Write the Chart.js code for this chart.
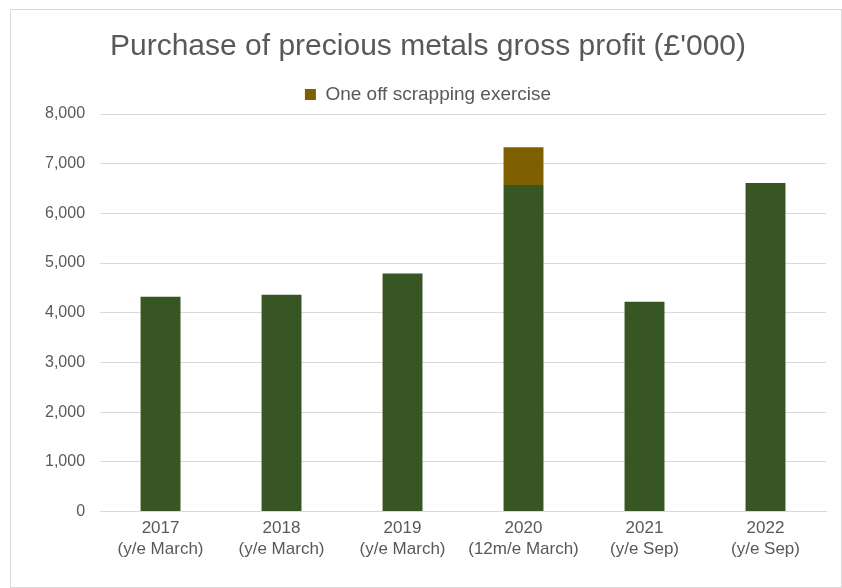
<!DOCTYPE html>
<html lang="en">
<head>
  <meta charset="UTF-8">
  <title>Purchase of precious metals gross profit</title>
  <script src="https://cdn.jsdelivr.net/npm/chart.js"></script>
  <style>
    body { margin: 0; background: #fff; overflow: hidden; }
    #wrap {
      position: absolute; left: 10px; top: 9px;
      width: 832px; height: 579px;
      border: 1px solid #d9d9d9; box-sizing: border-box;
    }
  </style>
</head>
<body>
  <div id="wrap"><canvas id="myChart"></canvas></div>
  <script>
    // Data
    var categories = [
      ['2017', '(y/e March)'],
      ['2018', '(y/e March)'],
      ['2019', '(y/e March)'],
      ['2020', '(12m/e March)'],
      ['2021', '(y/e Sep)'],
      ['2022', '(y/e Sep)']
    ];
    var grossProfit = [4320, 4360, 4790, 6570, 4220, 6610];
    var oneOff = [0, 0, 0, 760, 0, 0];

    var font = 'Liberation Sans, Arial, sans-serif';

    var ctx = document.getElementById('myChart').getContext('2d');
    var myChart = new Chart(ctx, {
      type: 'bar',
      data: {
        labels: categories,
        datasets: [{
          label: 'Gross profit',
          data: grossProfit,
          backgroundColor: '#375623',
          barPercentage: 0.33,
          categoryPercentage: 1
        }, {
          label: 'One off scrapping exercise',
          data: oneOff,
          backgroundColor: '#7f6000',
          barPercentage: 0.33,
          categoryPercentage: 1
        }]
      },
      options: {
        responsive: true,
        maintainAspectRatio: false,
        animation: false,
        layout: { padding: { left: 19, right: 15, top: 15, bottom: 29 } },
        scales: {
          x: {
            stacked: true,
            grid: { display: false },
            border: { color: '#d9d9d9' },
            ticks: { color: '#595959', padding: -2, font: { family: font, size: 17, lineHeight: 1.25 } }
          },
          y: {
            stacked: true,
            min: 0,
            max: 8000,
            ticks: {
              stepSize: 1000,
              color: '#595959',
              padding: 15,
              font: { family: font, size: 16 },
              callback: function (v) { return v.toLocaleString('en-GB'); }
            },
            grid: { color: '#d9d9d9', drawTicks: false },
            border: { display: false }
          }
        },
        plugins: {
          title: {
            display: true,
            text: "Purchase of precious metals gross profit (£'000)",
            color: '#595959',
            font: { family: font, size: 30, weight: 'normal' },
            padding: { top: 4, bottom: 10 }
          },
          legend: {
            labels: {
              filter: function (item) { return item.datasetIndex === 1; },
              boxWidth: 11,
              boxHeight: 11,
              color: '#595959',
              font: { family: font, size: 19 }
            }
          },
          tooltip: { enabled: false }
        }
      }
    });
  </script>
</body>
</html>
